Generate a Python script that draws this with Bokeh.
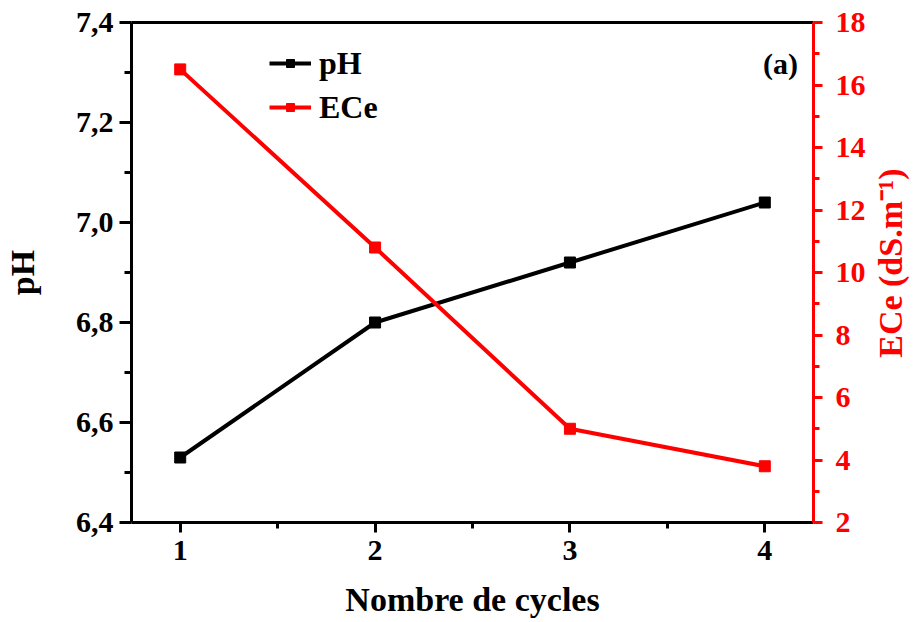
import math
from bokeh.plotting import figure
from bokeh.layouts import row
from bokeh.models import (Range1d, LinearAxis, FixedTicker, CustomJSTickFormatter,
                          Legend, LegendItem, Label)
from bokeh.core.properties import value
from bokeh.embed import file_html
from bokeh.resources import INLINE

# ---- data ----
cycles = [1, 2, 3, 4]
ph_values = [6.53, 6.80, 6.92, 7.04]
ece_values = [16.5, 10.8, 5.0, 3.8]

x_ticks = [1, 2, 3, 4]
x_minor = [1.5, 2.5, 3.5]
ph_ticks = [6.4, 6.6, 6.8, 7.0, 7.2, 7.4]
ph_minor = [6.5, 6.7, 6.9, 7.1, 7.3]
ece_ticks = [2, 4, 6, 8, 10, 12, 14, 16, 18]
ece_minor = [3, 5, 7, 9, 11, 13, 15, 17]
ece_title = ["ECe (dS.m\u207b\u00b9)"]

FONT = "Liberation Serif"
RED = "#FF0000"
TICK_FS = "30px"
TITLE_FS = "34px"
H = 620
TOP = 22
BOTTOM = 98

p = figure(width=870, height=H, output_backend="svg", toolbar_location=None,
           x_range=Range1d(0.75, 4.25), y_range=Range1d(6.4, 7.4),
           min_border_left=130, min_border_right=57, min_border_top=TOP,
           min_border_bottom=BOTTOM)
p.xgrid.visible = False
p.ygrid.visible = False
p.outline_line_color = None
p.background_fill_color = "white"
p.border_fill_color = "white"

p.extra_y_ranges = {"ece": Range1d(2, 18)}

def style_axis(ax, color, tick_out, minor_out):
    ax.axis_line_color = color
    ax.axis_line_width = 3
    ax.major_tick_line_color = color
    ax.major_tick_line_width = 3
    ax.minor_tick_line_color = color
    ax.minor_tick_line_width = 3
    ax.major_tick_in = 0
    ax.major_tick_out = tick_out
    ax.minor_tick_in = 0
    ax.minor_tick_out = minor_out
    ax.major_label_text_font = FONT
    ax.major_label_text_font_style = "bold"
    ax.major_label_text_font_size = TICK_FS
    ax.major_label_text_color = color
    ax.axis_label_text_font = FONT
    ax.axis_label_text_font_style = "bold"
    ax.axis_label_text_font_size = TITLE_FS
    ax.axis_label_text_color = color

# bottom axis
xa = p.xaxis[0]
xa.ticker = FixedTicker(ticks=x_ticks, minor_ticks=x_minor)
style_axis(xa, "black", 10, 6)
xa.axis_label = "Nombre de cycles"
xa.major_label_standoff = 8
xa.axis_label_standoff = 18

# left axis
ya = p.yaxis[0]
ya.ticker = FixedTicker(ticks=ph_ticks, minor_ticks=ph_minor)
ya.formatter = CustomJSTickFormatter(code="return tick.toFixed(1).replace('.', ',');")
style_axis(ya, "black", 12, 7)
ya.axis_label = "pH"
ya.major_label_standoff = 6
ya.axis_label_standoff = 32

# right axis
ra = LinearAxis(y_range_name="ece")
ra.ticker = FixedTicker(ticks=ece_ticks, minor_ticks=ece_minor)
style_axis(ra, RED, 9, 6)
ra.major_label_standoff = 13
p.add_layout(ra, "right")

# top border (axis without ticks/labels)
ta = LinearAxis(ticker=FixedTicker(ticks=[]))
ta.axis_line_color = "black"
ta.axis_line_width = 3
ta.major_tick_line_color = None
ta.minor_tick_line_color = None
ta.major_label_text_font_size = "0px"
p.add_layout(ta, "above")

# series
l1 = p.line(cycles, ph_values, line_color="black", line_width=4)
s1 = p.scatter(cycles, ph_values, marker="square", size=11, color="black")
l2 = p.line(cycles, ece_values, line_color=RED, line_width=4, y_range_name="ece")
s2 = p.scatter(cycles, ece_values, marker="square", size=11, color=RED, y_range_name="ece")

legend = Legend(items=[LegendItem(label="pH", renderers=[l1, s1]),
                       LegendItem(label="ECe", renderers=[l2, s2])],
                location=(138, 395))
legend.label_text_font = FONT
legend.label_text_font_style = "bold"
legend.label_text_font_size = "32px"
legend.label_text_color = "black"
legend.glyph_width = 42
legend.glyph_height = 20
legend.label_height = 40
legend.spacing = 4
legend.padding = 0
legend.margin = 0
legend.label_standoff = 8
legend.border_line_color = None
legend.background_fill_alpha = 0
p.add_layout(legend, "center")

tag = Label(x=4.17, y=7.318, text="(a)", text_font=FONT, text_font_style="bold",
            text_font_size="30px", text_align="right", text_baseline="middle",
            text_color="black")
p.add_layout(tag)

# side panel holding the right-axis title (reads bottom-to-top)
side = figure(width=40, height=H, output_backend="svg", toolbar_location=None,
              x_range=Range1d(0, 40), y_range=Range1d(2, 18),
              x_axis_type=None, y_axis_type=None,
              min_border_left=0, min_border_right=0, min_border_top=TOP,
              min_border_bottom=BOTTOM)
side.xgrid.visible = False
side.ygrid.visible = False
side.outline_line_color = None
side.background_fill_color = "white"
side.border_fill_color = "white"
side.text(x=[20], y=[10.3], text=ece_title, angle=math.pi / 2,
          text_font=value(FONT), text_font_style="bold", text_font_size=TITLE_FS,
          text_align="center", text_baseline="middle", text_color=RED)

layout = row(p, side, spacing=0)
open("out.html", "w").write(file_html(layout, INLINE))
